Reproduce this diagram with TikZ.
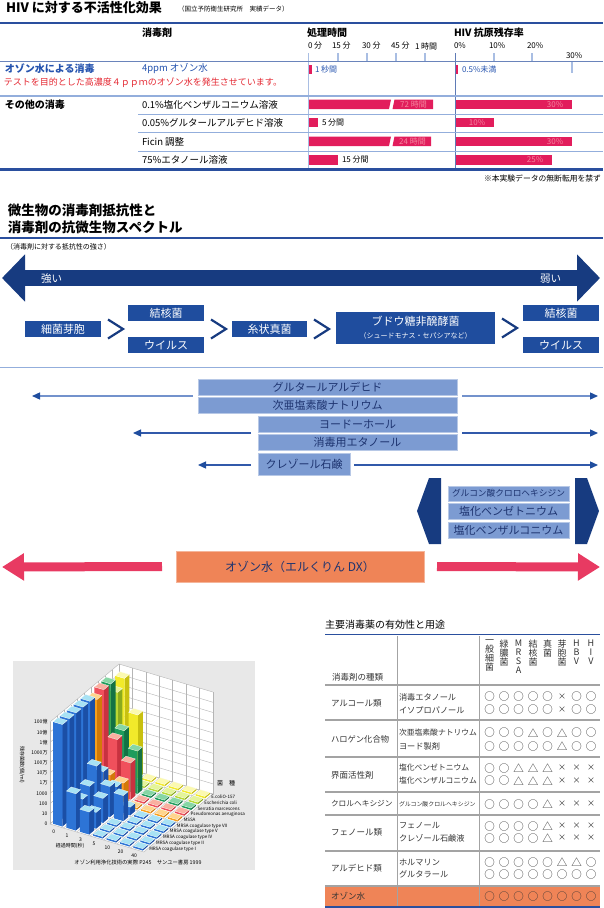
\documentclass[tikz,border=0pt]{standalone}
\usepackage{fontspec}
\setmainfont{Noto Sans CJK JP}
\usetikzlibrary{calc,arrows.meta}

\definecolor{hivblue}{HTML}{2A4F9E}
\definecolor{paleline}{HTML}{93AEDC}
\definecolor{ticklight}{HTML}{A9BEE3}
\definecolor{barred}{HTML}{E21D5C}
\definecolor{barlabel}{HTML}{F4869F}
\definecolor{ozonetext}{HTML}{2553AE}
\definecolor{warnred}{HTML}{E42832}
\definecolor{specblue}{HTML}{1F4D9E}
\definecolor{navy}{HTML}{173B80}
\definecolor{agentblue}{HTML}{7C9BD2}
\definecolor{agenttext}{HTML}{1E3470}
\definecolor{arrowline}{HTML}{3159AA}
\definecolor{arrowpale}{HTML}{7392CC}
\definecolor{ozonepink}{HTML}{E83A62}
\definecolor{ozoneorange}{HTML}{EF8457}
\definecolor{rulegray}{HTML}{A3A3A3}
\definecolor{tabletext}{HTML}{333333}
\definecolor{chartbg}{HTML}{E8E8E8}
\definecolor{gridgray}{HTML}{B5B5B5}
% bar colours: face / side / top
\definecolor{blu}{HTML}{2D74D6}\definecolor{bluside}{HTML}{1B4FA6}\definecolor{blutop}{HTML}{A8E2F4}
\definecolor{ora}{HTML}{F8A01C}\definecolor{oraside}{HTML}{D27A08}\definecolor{oratop}{HTML}{FFD58E}
\definecolor{sal}{HTML}{F0505C}\definecolor{salside}{HTML}{C83240}\definecolor{saltop}{HTML}{F9B0A0}
\definecolor{grn}{HTML}{1E9C5C}\definecolor{grnside}{HTML}{137244}\definecolor{grntop}{HTML}{86D6A4}
\definecolor{ygr}{HTML}{B6D935}\definecolor{ygrside}{HTML}{8AAA1E}\definecolor{ygrtop}{HTML}{E4F49A}
\definecolor{yel}{HTML}{F2EA2A}\definecolor{yelside}{HTML}{C8C010}\definecolor{yeltop}{HTML}{FBF9B0}

\def\fsz#1{\fontsize{#1}{#1}\selectfont}
\def\nox{{\fsz{8}×}}
\def\drawrule{\draw[rulegray,line width=1.1pt]}
\def\agentnode{\node[agentbox]}
\def\chevron#1{\draw[navy,line width=2.2pt] ($(#1)+(7,-9.5)$) -- ($(#1)+(22,0)$) -- ($(#1)+(7,9.5)$);}
\def\brokenbar#1#2#3#4{% name, top, right end, label
  \fill[barred] (309,#2) -- (391,#2) -- (389,#2+9.5) -- (309,#2+9.5) -- cycle;
  \fill[barred] (394.5,#2) -- (#3,#2) -- (#3,#2+9.5) -- (392.5,#2+9.5) -- cycle;
  \node[font=\fsz{8},text=barlabel] (#1) at ({(392+#3)/2+1},#2+4.75) {#4};}
\def\hivbar#1#2#3#4{%
  \fill[barred] (456,#2) rectangle (#3,#2+9.5);
  \node[font=\fsz{8},text=barlabel] (#1) at ({#3-17},#2+4.75) {#4};}
\def\chartbar#1#2#3#4{% column, row, height, colour
  \fill[#4side] (#1+.85,#2+.15,0) -- (#1+.85,#2+.85,0) -- (#1+.85,#2+.85,#3) -- (#1+.85,#2+.15,#3) -- cycle;
  \fill[#4] (#1+.15,#2+.15,0) -- (#1+.85,#2+.15,0) -- (#1+.85,#2+.15,#3) -- (#1+.15,#2+.15,#3) -- cycle;
  \fill[#4top,draw=white,line width=.2pt] (#1+.15,#2+.15,#3) -- (#1+.85,#2+.15,#3) -- (#1+.85,#2+.85,#3) -- (#1+.15,#2+.85,#3) -- cycle;}

\tikzset{
  txt/.style={anchor=west},
  specbox/.style={fill=specblue,text=white,font=\fsz{11},minimum width=76pt,minimum height=16pt},
  agentbox/.style={fill=agentblue,draw=agentblue!55!white,line width=.7pt,text=agenttext,font=\fsz{11},minimum height=16pt},
  spanarrow/.style={arrowline,line width=1.3pt,-{Triangle[length=8pt,width=7pt,color=specblue]}},
  pinkarrow/.style={ozonepink,line width=9pt,-{Triangle[length=22pt,width=26pt]}},
  bigarrow/.style={navy,line width=16pt,{Triangle[length=23pt,width=46pt]}-{Triangle[length=23pt,width=46pt]}},
}

\begin{document}
\begin{tikzpicture}[x=1pt,y=-1pt,inner sep=0pt,outer sep=0pt]
\useasboundingbox (0,0) rectangle (603,908);

% HIV table
\node[txt,font=\fsz{13}\bfseries] (hivtitle) at (6,8) {HIV に対する不活性化効果};
\node[txt,font=\fsz{6.5}] (hivsource) at (178,9) {（国立予防衛生研究所　実績データ）};
\draw[hivblue,line width=2.4pt] (0,23) -- (603,23);
\node[txt,font=\fsz{10}\bfseries] (agenthead) at (142,33) {消毒剤};
\node[txt,font=\fsz{10}\bfseries] (timehead) at (307,33) {処理時間};
\node[txt,font=\fsz{10}\bfseries] (hivhead) at (454,33) {HIV 抗原残存率};
\foreach \lab/\x [count=\i] in {{0 分}/308,{15 分}/332,{30 分}/362,{45 分}/391,{1 時間}/415}
  \node[txt,font=\fsz{8}] (timelab\i) at (\x,46) {\lab};
\foreach \lab/\x/\y [count=\i] in {0\%/454/46,10\%/489/46,20\%/527/46,30\%/566/56}
  \node[txt,font=\fsz{8}] (hivlab\i) at (\x,\y) {\lab};
\draw[ticklight,line width=1.6pt] (308.5,53) -- (308.5,169);
\foreach \x in {338,367,396,425} \draw[ticklight,line width=1.4pt] (\x,53) -- (\x,62);
\draw[hivblue!75,line width=.7pt] (455.5,53) -- (455.5,169);
\foreach \x in {494,532} \draw[ticklight,line width=1.2pt] (\x,53) -- (\x,62);
\draw[ticklight,line width=1.2pt] (572,62) -- (572,73);
\draw[hivblue!70,line width=.8pt] (0,61) -- (603,61);

% ozone row
\node[txt,font=\fsz{10}\bfseries,text=ozonetext] (ozonerow) at (5,69) {オゾン水による消毒};
\node[txt,font=\fsz{9.5},text=ozonetext] (ozoneagent) at (142,69) {4ppm オゾン水};
\fill[barred] (309,65) rectangle (311.5,73.5);
\node[txt,font=\fsz{8},text=ozonetext] (ozonetime) at (315,69) {1 秒間};
\fill[barred] (456,65) rectangle (458,73.5);
\node[txt,font=\fsz{8},text=ozonetext] (ozonehiv) at (462,69) {0.5\%未満};
\node[txt,font=\fsz{9},text=warnred] (ozonenote) at (4,83) {テストを目的とした高濃度４ｐｐｍのオゾン水を発生させています。};
\draw[paleline,line width=2pt] (0,95.5) -- (603,95.5);

% other disinfectants
\node[txt,font=\fsz{10}\bfseries] (otherrow) at (5,105) {その他の消毒};
\foreach \lab/\y [count=\i] in {0.1\%塩化ベンザルコニウム溶液/104.5,0.05\%グルタールアルデヒド溶液/122.5,Ficin 調整/141.5,75\%エタノール溶液/160}
  \node[txt,font=\fsz{9.5}] (agent\i) at (142,\y) {\lab};
\foreach \y in {114,132.5,151} \draw[paleline,line width=.8pt] (138,\y) -- (603,\y);
\brokenbar{bzktime}{99.5}{433}{72 時間}
\fill[barred] (309,117.5) rectangle (318,127);
\node[txt,font=\fsz{8}] (glutime) at (322,122.5) {5 分間};
\brokenbar{fictime}{136.5}{431}{24 時間}
\fill[barred] (309,155) rectangle (338,164.5);
\node[txt,font=\fsz{8}] (ettime) at (342,160) {15 分間};
\hivbar{bzkhiv}{99.5}{572}{30\%}
\hivbar{gluhiv}{117.5}{494}{10\%}
\hivbar{fichiv}{136.5}{572}{30\%}
\hivbar{ethiv}{155}{552}{25\%}
\draw[hivblue,line width=2.2pt] (0,169.5) -- (603,169.5);
\node[anchor=east,font=\fsz{7.8}] (nocopy) at (601,179) {※本実験データの無断転用を禁ず};

% resistance spectrum
\node[txt,font=\fsz{13.5}\bfseries] (spectitle) at (8,210) {微生物の消毒剤抵抗性と};
\node[txt,font=\fsz{13.5}\bfseries] (spectitleb) at (8,227) {消毒剤の抗微生物スペクトル};
\draw[hivblue,line width=1.8pt] (0,238) -- (603,238);
\node[txt,font=\fsz{7}] (specnote) at (6,247) {（消毒剤に対する抵抗性の強さ）};
\coordinate (strong) at (2,278);
\coordinate (weak) at (600,278);
\draw[bigarrow] (strong) -- (weak);
\node[txt,font=\fsz{10.5},text=white] (stronglab) at (41,278.5) {強い};
\node[txt,font=\fsz{10.5},text=white] (weaklab) at (540,278.5) {弱い};

\node[specbox] (spore) at (63,329) {細菌芽胞};
\node[specbox] (tbA) at ($(spore)+(103,-16)$) {結核菌};
\node[specbox] (virusA) at ($(spore)+(103,16)$) {ウイルス};
\node[specbox,minimum width=75pt] (mold) at ($(spore)+(206.5,0)$) {糸状真菌};
\node[specbox,minimum width=159pt,minimum height=32pt,align=center] (pseudo) at ($(mold)+(146,-1)$)
  {ブドウ糖非醗酵菌\\[2pt]{\fsz{7}（シュードモナス・セパシアなど）}};
\node[specbox] (tbB) at ($(tbA)+(395,0)$) {結核菌};
\node[specbox] (virusB) at ($(virusA)+(395,0)$) {ウイルス};
\coordinate (gapA) at ($(tbA.east)!.5!(virusA.east)$);
\chevron{spore.east}
\chevron{gapA}
\chevron{mold.east}
\chevron{pseudo.east}
\draw[paleline,line width=1pt] (0,367) -- (603,367);

% spectra of the agents
\agentnode[minimum width=259pt] (glut) at (327.5,387) {グルタールアルデヒド};
\agentnode[minimum width=259pt] (hypo) at (327.5,405) {次亜塩素酸ナトリウム};
\agentnode[minimum width=199pt] (iodo) at (357.5,424) {ヨードーホール};
\agentnode[minimum width=199pt] (etoh) at (357.5,442) {消毒用エタノール};
\agentnode[minimum width=92pt,minimum height=22pt] (creso) at (304,464) {クレゾール石鹸};
\coordinate (glutL) at (32,396);
\coordinate (glutR) at (598,396);
\coordinate (iodoL) at (133,433);
\coordinate (iodoR) at (598,433);
\coordinate (cresoL) at (198,465);
\coordinate (cresoR) at (598,465);
\draw[spanarrow,arrowpale] ($(glut.south west)+(-5,1)$) -- (glutL);
\draw[spanarrow,arrowpale] ($(glut.south east)+(5,1)$) -- (glutR);
\draw[spanarrow] ($(iodo.south west)+(-7,1)$) -- (iodoL);
\draw[spanarrow] ($(iodo.south east)+(5,1)$) -- (iodoR);
\draw[spanarrow] ($(creso.west)+(-7,1)$) -- (cresoL);
\draw[spanarrow] ($(creso.east)+(4,1)$) -- (cresoR);

\agentnode[minimum width=121pt,minimum height=15pt,font=\fsz{8.7}] (chlor) at (508.5,493.5) {グルコン酸クロロヘキシジン};
\agentnode[minimum width=121pt] (benzeth) at (508.5,511) {塩化ベンゼトニウム};
\agentnode[minimum width=121pt] (benzal) at (508.5,530) {塩化ベンザルコニウム};
\fill[navy] (429,478) -- (441,478) -- (441,544) -- (429,544) -- (417,511) -- cycle;
\fill[navy] (575,478) -- (587,478) -- (599,511) -- (587,544) -- (575,544) -- cycle;

\node[fill=ozoneorange,draw=ozoneorange!60!white,line width=.8pt,minimum width=248pt,minimum height=31pt,
  font=\fsz{12},text=agenttext] (ozone) at (300,566.5) {オゾン水（エルくりん DX）};
\coordinate (ozoneL) at (2,567);
\coordinate (ozoneR) at (600,567);
\draw[pinkarrow] ($(ozone.west)+(-14,0)$) -- (ozoneL);
\draw[pinkarrow] ($(ozone.east)+(13,0)$) -- (ozoneR);

% survival chart
\fill[chartbg] (13,661) rectangle (255,870);
\begin{scope}[shift={(50,824)},x={(13.4pt,-4pt)},y={(6.9pt,5.8pt)},z={(0pt,10.2pt)}]
  \fill[white] (0,0,0) -- (0,10,0) -- (0,10,10) -- (0,0,10) -- cycle;
  \fill[white] (0,10,0) -- (7,10,0) -- (7,10,10) -- (0,10,10) -- cycle;
  \fill[white] (0,0,0) -- (7,0,0) -- (7,10,0) -- (0,10,0) -- cycle;
  \foreach \k in {0,...,10} {
    \draw[gridgray,line width=.4pt] (0,0,\k) -- (0,10,\k) -- (7,10,\k);
    \draw[gridgray,line width=.4pt] (0,\k,0) -- (0,\k,10);
    \draw[gridgray,line width=.4pt] (0,\k,0) -- (7,\k,0);
  }
  \foreach \k in {0,...,7} {
    \draw[gridgray,line width=.4pt] (\k,10,0) -- (\k,10,10);
    \draw[gridgray,line width=.4pt] (\k,0,0) -- (\k,10,0);
  }
  \foreach \r/\col/\hl in {9/yel/{9.4,6.2,0,0,0,0,0},8/ygr/{8.6,0.8,0,0,0,0,0},7/grn/{10,5.8,4.2,0,0,0,0},
      6/sal/{10,5.5,3.6,0,0,0,0},5/ora/{9.6,2.6,2.2,0,0,0,0},4/blu/{10,3.5,2.4,0.8,0,0,0},
      3/blu/{10,4.6,3,2.5,0,0,0},2/blu/{10,3.2,2.4,0,0,0,0},1/blu/{10,2.5,1.6,0,0,0,0},0/blu/{10,3.6,2.2,0,0,0,0}} {
    \foreach \h [count=\c from 0] in \hl {
      \pgfmathsetmacro\hh{max(\h,0.18)}
      \chartbar{\c}{\r}{\hh}{\col}
    }
  }
  \foreach \lab [count=\k from 0] in {0,10,100,1000,1万,10万,100万,1000万,1億,10億,100億}
    \node[anchor=east,xshift=-2.5pt,font=\fsz{5}] (ylab\k) at (0,0,\k) {\lab};
  \foreach \lab [count=\k from 0] in {0,1,3,5,10,20,40}
    \node[anchor=north,font=\fsz{5}] (tlab\k) at ($(\k+.5,0,0)+(-3pt,-4pt)$) {\lab};
  \foreach \lab [count=\k from 0] in {MRSA coagulase type I,MRSA coagulase type II,MRSA coagulase type IV,
      MRSA coagulase type V,MRSA coagulase type VII,MSSA,Pseudomonas aeruginosa,Serratia marcescens,
      Escherichia coli,E.coliO-157}
    \node[anchor=west,xshift=2pt,font=\fsz{4.5}] (slab\k) at (7,\k+.5,0) {\lab};
\end{scope}
\node[txt,font=\fsz{6}] (species) at (217,783) {菌　種};
\node[rotate=-90,font=\fsz{5}] (ytitle) at (22,765) {残存菌数(個/ml)};
\node[font=\fsz{5}] (xtitle) at (70,846) {経過時間(秒)};
\node[font=\fsz{5.3}] (source) at (138,862) {オゾン利用浄化技術の実際 P245　サンユー書房 1999};

% efficacy table
\node[txt,font=\fsz{10}] (tabletitle) at (325,625) {主要消毒薬の有効性と用途};
\draw[hivblue,line width=1.6pt] (325,634.5) -- (600,634.5);
\fill[ozoneorange] (325,887) rectangle (600,906);
\draw[rulegray,line width=.8pt] (397,636) -- (397,906) (479,636) -- (479,906);
\foreach \lab [count=\i] in {{一\\般\\細\\菌},{緑\\膿\\菌},{M\\R\\S\\A},{結\\核\\菌},{真\\菌},{芽\\胞\\菌},{H\\B\\V},{H\\I\\V}}
  \node[anchor=north,align=center,font=\fsz{9},text=tabletext] (head\i) at ({475+14.5*\i},640) {\lab};
\node[txt,font=\fsz{8.5},text=tabletext] (kindhead) at (332,677) {消毒剤の種類};
\drawrule[line width=1.6pt] (325,685) -- (600,685);
\foreach \y in {720,757,792,815,851,886} \drawrule (325,\y) -- (600,\y);
\foreach \lab/\y/\s [count=\g] in {アルコール類/703/8.5,ハロゲン化合物/739/8.3,界面活性剤/775/8.5,
    クロルヘキシジン/804/7.7,フェノール類/832/8.5,アルデヒド類/868/8.5,オゾン水/896/8.5}
  \node[txt,font=\fsz{\s},text=tabletext] (group\g) at (331,\y) {\lab};
\foreach \lab/\y/\s/\marks [count=\k] in {
    消毒エタノール/697/8.2/{○,○,○,○,○,\nox,○,○},
    イソプロパノール/710/8.2/{○,○,○,○,○,\nox,○,○},
    次亜塩素酸ナトリウム/733/7.8/{○,○,○,△,○,△,○,○},
    ヨード製剤/746/8.2/{○,○,○,○,○,△,○,○},
    塩化ベンゼトニウム/768/7.8/{○,○,△,△,△,\nox,\nox,\nox},
    塩化ベンザルコニウム/781/7.8/{○,○,△,△,△,\nox,\nox,\nox},
    グルコン酸クロルヘキシジン/804/5.9/{○,○,○,○,△,\nox,\nox,\nox},
    フェノール/826/8.2/{○,○,○,○,△,\nox,\nox,\nox},
    クレゾール石鹸液/838/8.2/{○,○,○,○,△,\nox,\nox,\nox},
    ホルマリン/862/8.2/{○,○,○,○,○,△,△,○},
    グルタラール/874/8.2/{○,○,○,○,○,○,○,○}} {
  \node[txt,font=\fsz{\s},text=tabletext] (use\k) at (399,\y) {\lab};
  \foreach \m [count=\i] in \marks
    \node[font=\fsz{10.5},text=tabletext] (mark\k-\i) at ({475+14.5*\i},\y) {\m};
}
\foreach \i in {1,...,8}
  \node[font=\fsz{10.5},text=tabletext] (ozonemark\i) at ({475+14.5*\i},896) {○};
\draw[hivblue,line width=1.6pt] (325,907) -- (600,907);
\end{tikzpicture}
\end{document}
